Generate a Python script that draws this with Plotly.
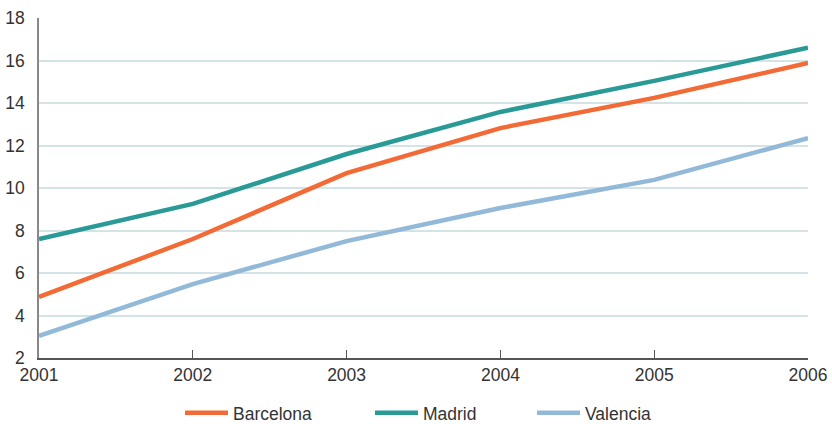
import plotly.graph_objects as go

years = [2001, 2002, 2003, 2004, 2005, 2006]
barcelona = [4.87, 7.6, 10.7, 12.82, 14.24, 15.88]
madrid = [7.6, 9.25, 11.6, 13.58, 15.04, 16.6]
valencia = [3.04, 5.48, 7.5, 9.06, 10.38, 12.35]

series = [
    ("Barcelona", barcelona, "#f26a35"),
    ("Madrid", madrid, "#2a9a97"),
    ("Valencia", valencia, "#93b9d8"),
]
# left edge of each legend entry, in pixels of the 832px-wide page
legend_left = [180, 370, 532]
legend_ids = ["legend", "legend2", "legend3"]

fig = go.Figure()
for (name, vals, color), lid in zip(series, legend_ids):
    fig.add_trace(go.Scatter(
        x=years, y=vals, name=name, mode="lines",
        line=dict(color=color, width=4.5),
        legend=lid,
    ))

font = dict(family="Liberation Sans, Arial, sans-serif", size=17.5, color="#333333")

legend_style = dict(
    orientation="h", xref="container", yref="container",
    xanchor="left", yanchor="middle", y=0.026,
    font=dict(size=17.5, color="#333333"),
    bgcolor="rgba(0,0,0,0)", borderwidth=0, itemwidth=43,
)

fig.update_layout(
    width=832, height=424,
    margin=dict(l=39, r=24, t=18, b=66, autoexpand=False),
    paper_bgcolor="white", plot_bgcolor="white",
    font=font,
    showlegend=True,
    legend=dict(legend_style, x=legend_left[0] / 832),
    legend2=dict(legend_style, x=legend_left[1] / 832),
    legend3=dict(legend_style, x=legend_left[2] / 832),
    xaxis=dict(
        range=[2001, 2006], tickvals=years, ticktext=[str(y) for y in years],
        showgrid=False, showline=True, linecolor="#555555", linewidth=1.5,
        ticks="inside", ticklen=8, tickcolor="#555555", tickwidth=1,
        zeroline=False, fixedrange=True, automargin=False,
        ticklabelstandoff=0,
    ),
    yaxis=dict(
        range=[2, 18], tickvals=[2, 4, 6, 8, 10, 12, 14, 16, 18],
        showgrid=True, gridcolor="#d3e3e6", gridwidth=1.5,
        showline=True, linecolor="#888888", linewidth=1.5,
        ticks="", ticklabelstandoff=9,
        zeroline=False, fixedrange=True, automargin=False,
    ),
)

fig.write_html("out.html")
